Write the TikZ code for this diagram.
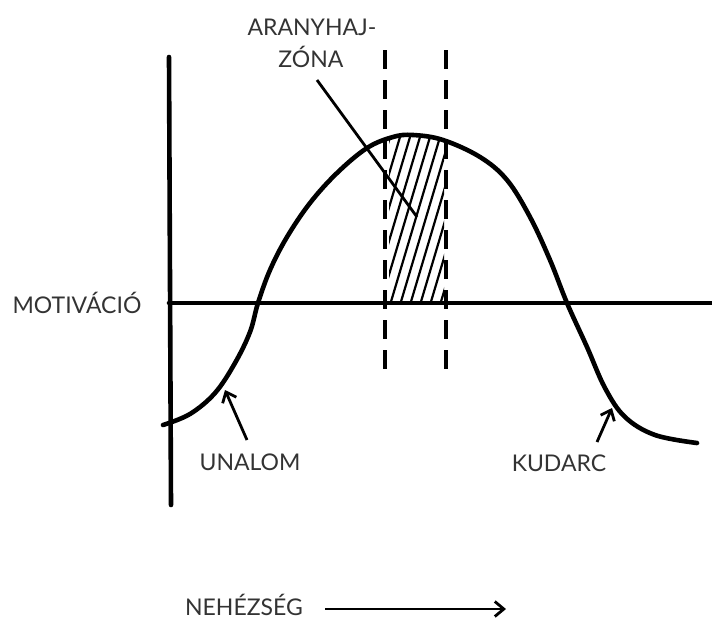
\documentclass[tikz,border=0pt]{standalone}
\usepackage{fontspec}
\setmainfont{Lato}
\usetikzlibrary{arrows.meta}

\begin{document}
\begin{tikzpicture}[x=1pt, y=-1pt,
    lbl/.style={font=\fontsize{23}{27}\selectfont, text=black!80, inner sep=0pt, anchor=base},
    axisline/.style={line width=4.6pt, line cap=round},
    dashline/.style={line width=3.2pt, dash pattern=on 19pt off 11pt},
    hatchline/.style={line width=2.2pt, line cap=round},
    pointer/.style={line width=2.8pt, -{Straight Barb[length=9pt, width=15pt, line width=2.8pt]}}]

    \useasboundingbox (0,0) rectangle (712,621);

    % axes
    \coordinate (ytop) at (169,57);
    \coordinate (ybot) at (171,505);
    \coordinate (hl) at (169,303);
    \coordinate (hr) at (712,303);
    \draw[axisline] (ytop) -- (ybot);
    \draw[axisline] (hl) -- (hr);

    % the curve
    \def\curve{plot[smooth, tension=0.6] coordinates {
        (163,425) (190,414) (215,393) (235,363) (250,332)
        (258,303) (270,270) (287,237) (310,203) (337,173) (367,148)
        (393,137) (413,135) (443,140) (480,157) (507,180) (530,217)
        (550,260) (567,303) (587,347) (605,388) (625,417) (655,435)
        (697,443)}}
    \draw[axisline] \curve;

    % golden zone
    \begin{scope}
        \clip (389,0) rectangle (444,303);
        \clip \curve -- (712,621) -- (0,621) -- cycle;
        \foreach \x in {330,340,...,460}
            \draw[hatchline] (\x,305) -- ++(50,-168);
    \end{scope}
    \coordinate (d1t) at (385,50);
    \coordinate (d1b) at (385,372);
    \coordinate (d2t) at (446,50);
    \coordinate (d2b) at (446,372);
    \draw[dashline] (d1t) -- (d1b);
    \draw[dashline] (d2t) -- (d2b);

    % labels
    \node[lbl] (zona) at (312,35) {ARANYHAJ-};
    \node[lbl] (zona2) at (311,67) {ZÓNA};
    \coordinate (zonastart) at (317,80);
    \coordinate (zonatip) at (417,217);
    \draw[line width=2.8pt] (zonastart) -- (zonatip);

    \node[lbl] (motivacio) at (77,313) {MOTIVÁCIÓ};

    \node[lbl] (unalom) at (250,470) {UNALOM};
    \coordinate (unalomtail) at (247,440);
    \coordinate (unalomtip) at (225,390);
    \draw[pointer] (unalomtail) -- (unalomtip);

    \node[lbl] (kudarc) at (559,471) {KUDARC};
    \coordinate (kudarctail) at (597,442);
    \coordinate (kudarctip) at (612,408);
    \draw[pointer] (kudarctail) -- (kudarctip);

    \node[lbl] (nehezseg) at (244,615) {NEHÉZSÉG};
    \coordinate (nehstart) at (325,609);
    \coordinate (nehtip) at (506,609);
    \draw[pointer] (nehstart) -- (nehtip);
\end{tikzpicture}
\end{document}
